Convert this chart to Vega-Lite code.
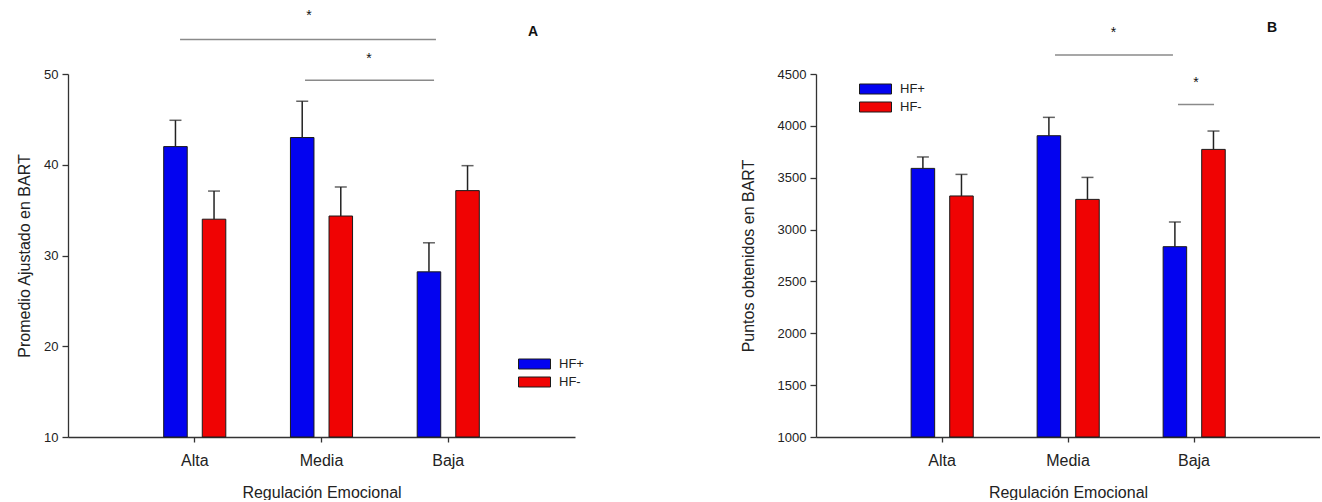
{
  "$schema": "https://vega.github.io/schema/vega-lite/v6.json",
  "background": "white",
  "padding": {"left": 16, "top": 8, "right": 0, "bottom": 0},
  "config": {
    "font": "Liberation Sans",
    "view": {"stroke": null},
    "axis": {
      "grid": false, "domainColor": "#333333", "domainWidth": 1.3, "tickColor": "#333333", "tickWidth": 1.3,
      "labelColor": "#222222", "titleColor": "#222222", "titleFontWeight": "normal",
      "labelFont": "Liberation Sans", "titleFont": "Liberation Sans"
    },
    "axisX": {"labelFontSize": 16, "titleFontSize": 16, "tickSize": 5, "labelPadding": 10, "titlePadding": 16, "labelAngle": 0},
    "axisY": {"labelFontSize": 13, "titleFontSize": 16, "tickSize": 6, "labelPadding": 4},
    "legend": {
      "title": null, "orient": "none", "direction": "vertical", "padding": 0,
      "symbolType": "M-2,-0.625H2V0.625H-2Z", "symbolSize": 256, "symbolStrokeColor": "#1a1a1a",
      "symbolStrokeWidth": 1, "symbolOpacity": 1, "labelFontSize": 13, "labelColor": "#222222",
      "labelFont": "Liberation Sans", "labelOffset": 16, "rowPadding": 2
    }
  },
  "datasets": {
    "A": [
      {"reg": "Alta", "grupo": "HF+", "media": 42.0, "sup": 44.9},
      {"reg": "Alta", "grupo": "HF-", "media": 34.0, "sup": 37.1},
      {"reg": "Media", "grupo": "HF+", "media": 43.0, "sup": 47.0},
      {"reg": "Media", "grupo": "HF-", "media": 34.35, "sup": 37.55},
      {"reg": "Baja", "grupo": "HF+", "media": 28.2, "sup": 31.4},
      {"reg": "Baja", "grupo": "HF-", "media": 37.15, "sup": 39.9}
    ],
    "B": [
      {"reg": "Alta", "grupo": "HF+", "media": 3590, "sup": 3700},
      {"reg": "Alta", "grupo": "HF-", "media": 3324, "sup": 3532},
      {"reg": "Media", "grupo": "HF+", "media": 3905, "sup": 4082},
      {"reg": "Media", "grupo": "HF-", "media": 3291, "sup": 3503},
      {"reg": "Baja", "grupo": "HF+", "media": 2835, "sup": 3073},
      {"reg": "Baja", "grupo": "HF-", "media": 3773, "sup": 3950}
    ],
    "sigA": [
      {"desde": 0.884, "hasta": 2.903, "nivel": 53.8, "sx": 1.901, "sy": 56.4},
      {"desde": 1.870, "hasta": 2.888, "nivel": 49.3, "sx": 2.375, "sy": 51.6}
    ],
    "sigB": [
      {"desde": 1.897, "hasta": 2.833, "nivel": 4683, "sx": 2.361, "sy": 4900},
      {"desde": 2.873, "hasta": 3.159, "nivel": 4207, "sx": 3.016, "sy": 4410}
    ],
    "labA": [{"panel": "A", "px": 3.669, "py": 54.66}],
    "labB": [{"panel": "B", "px": 3.619, "py": 4940}]
  },
  "bounds": "flush",
  "spacing": 241,
  "resolve": {"scale": {"color": "independent"}, "legend": {"color": "independent"}},
  "hconcat": [
    {
      "width": 507, "height": 363,
      "resolve": {"scale": {"x": "independent"}},
      "layer": [
        {
          "data": {"name": "A"},
          "encoding": {
            "x": {"field": "reg", "type": "nominal", "sort": ["Alta", "Media", "Baja"],
                  "scale": {"paddingInner": 0.51, "paddingOuter": 0.755},
                  "axis": {"title": "Regulación Emocional"}},
            "xOffset": {"field": "grupo", "type": "nominal", "sort": ["HF+", "HF-"], "scale": {"paddingInner": 0.39, "paddingOuter": 0}}
          },
          "layer": [
            {
              "mark": {"type": "bar", "stroke": "#1a1a1a", "strokeWidth": 1},
              "encoding": {
                "y": {"field": "media", "type": "quantitative", "scale": {"domain": [10, 50], "nice": false, "zero": false},
                      "axis": {"values": [10, 20, 30, 40, 50], "title": "Promedio Ajustado en BART", "titlePadding": 11}},
                "y2": {"datum": 10},
                "color": {"field": "grupo", "type": "nominal", "scale": {"domain": ["HF+", "HF-"], "range": ["#0303f0", "#f00303"]},
                          "legend": {"legendX": 458, "legendY": 281.5}}
              }
            },
            {
              "mark": {"type": "rule", "color": "#222222", "strokeWidth": 1.5},
              "encoding": {
                "y": {"field": "media", "type": "quantitative"},
                "y2": {"field": "sup"}
              }
            },
            {
              "mark": {"type": "tick", "color": "#222222", "thickness": 1.5, "size": 12, "orient": "horizontal"},
              "encoding": {
                "y": {"field": "sup", "type": "quantitative"}
              }
            }
          ]
        },
        {
          "layer": [
            {
              "data": {"name": "sigA"},
              "mark": {"type": "rule", "color": "#8a8a8a", "strokeWidth": 1.5},
              "encoding": {
                "x": {"field": "desde", "type": "quantitative", "scale": {"domain": [0, 4], "nice": false, "zero": false}, "axis": null},
                "x2": {"field": "hasta"},
                "y": {"field": "nivel", "type": "quantitative"}
              }
            },
            {
              "data": {"name": "sigA"},
              "mark": {"type": "text", "text": "*", "fontSize": 14, "color": "#111111", "baseline": "middle", "align": "center"},
              "encoding": {
                "x": {"field": "sx", "type": "quantitative", "axis": null},
                "y": {"field": "sy", "type": "quantitative"}
              }
            },
            {
              "data": {"name": "labA"},
              "mark": {"type": "text", "fontSize": 14, "fontWeight": "bold", "color": "#111111", "baseline": "middle", "align": "center"},
              "encoding": {
                "text": {"field": "panel"},
                "x": {"field": "px", "type": "quantitative", "axis": null},
                "y": {"field": "py", "type": "quantitative"}
              }
            }
          ]
        }
      ]
    },
    {
      "width": 504, "height": 363,
      "resolve": {"scale": {"x": "independent"}},
      "layer": [
        {
          "data": {"name": "B"},
          "encoding": {
            "x": {"field": "reg", "type": "nominal", "sort": ["Alta", "Media", "Baja"],
                  "scale": {"paddingInner": 0.51, "paddingOuter": 0.755},
                  "axis": {"title": "Regulación Emocional"}},
            "xOffset": {"field": "grupo", "type": "nominal", "sort": ["HF+", "HF-"], "scale": {"paddingInner": 0.39, "paddingOuter": 0}}
          },
          "layer": [
            {
              "mark": {"type": "bar", "stroke": "#1a1a1a", "strokeWidth": 1},
              "encoding": {
                "y": {"field": "media", "type": "quantitative", "scale": {"domain": [1000, 4500], "nice": false, "zero": false},
                      "axis": {"values": [1000, 1500, 2000, 2500, 3000, 3500, 4000, 4500], "format": "d", "title": "Puntos obtenidos en BART", "titlePadding": 21}},
                "y2": {"datum": 1000},
                "color": {"field": "grupo", "type": "nominal", "scale": {"domain": ["HF+", "HF-"], "range": ["#0303f0", "#f00303"]},
                          "legend": {"legendX": 51, "legendY": 6.5}}
              }
            },
            {
              "mark": {"type": "rule", "color": "#222222", "strokeWidth": 1.5},
              "encoding": {
                "y": {"field": "media", "type": "quantitative"},
                "y2": {"field": "sup"}
              }
            },
            {
              "mark": {"type": "tick", "color": "#222222", "thickness": 1.5, "size": 12, "orient": "horizontal"},
              "encoding": {
                "y": {"field": "sup", "type": "quantitative"}
              }
            }
          ]
        },
        {
          "layer": [
            {
              "data": {"name": "sigB"},
              "mark": {"type": "rule", "color": "#8a8a8a", "strokeWidth": 1.5},
              "encoding": {
                "x": {"field": "desde", "type": "quantitative", "scale": {"domain": [0, 4], "nice": false, "zero": false}, "axis": null},
                "x2": {"field": "hasta"},
                "y": {"field": "nivel", "type": "quantitative"}
              }
            },
            {
              "data": {"name": "sigB"},
              "mark": {"type": "text", "text": "*", "fontSize": 14, "color": "#111111", "baseline": "middle", "align": "center"},
              "encoding": {
                "x": {"field": "sx", "type": "quantitative", "axis": null},
                "y": {"field": "sy", "type": "quantitative"}
              }
            },
            {
              "data": {"name": "labB"},
              "mark": {"type": "text", "fontSize": 14, "fontWeight": "bold", "color": "#111111", "baseline": "middle", "align": "center"},
              "encoding": {
                "text": {"field": "panel"},
                "x": {"field": "px", "type": "quantitative", "axis": null},
                "y": {"field": "py", "type": "quantitative"}
              }
            }
          ]
        }
      ]
    }
  ]
}
